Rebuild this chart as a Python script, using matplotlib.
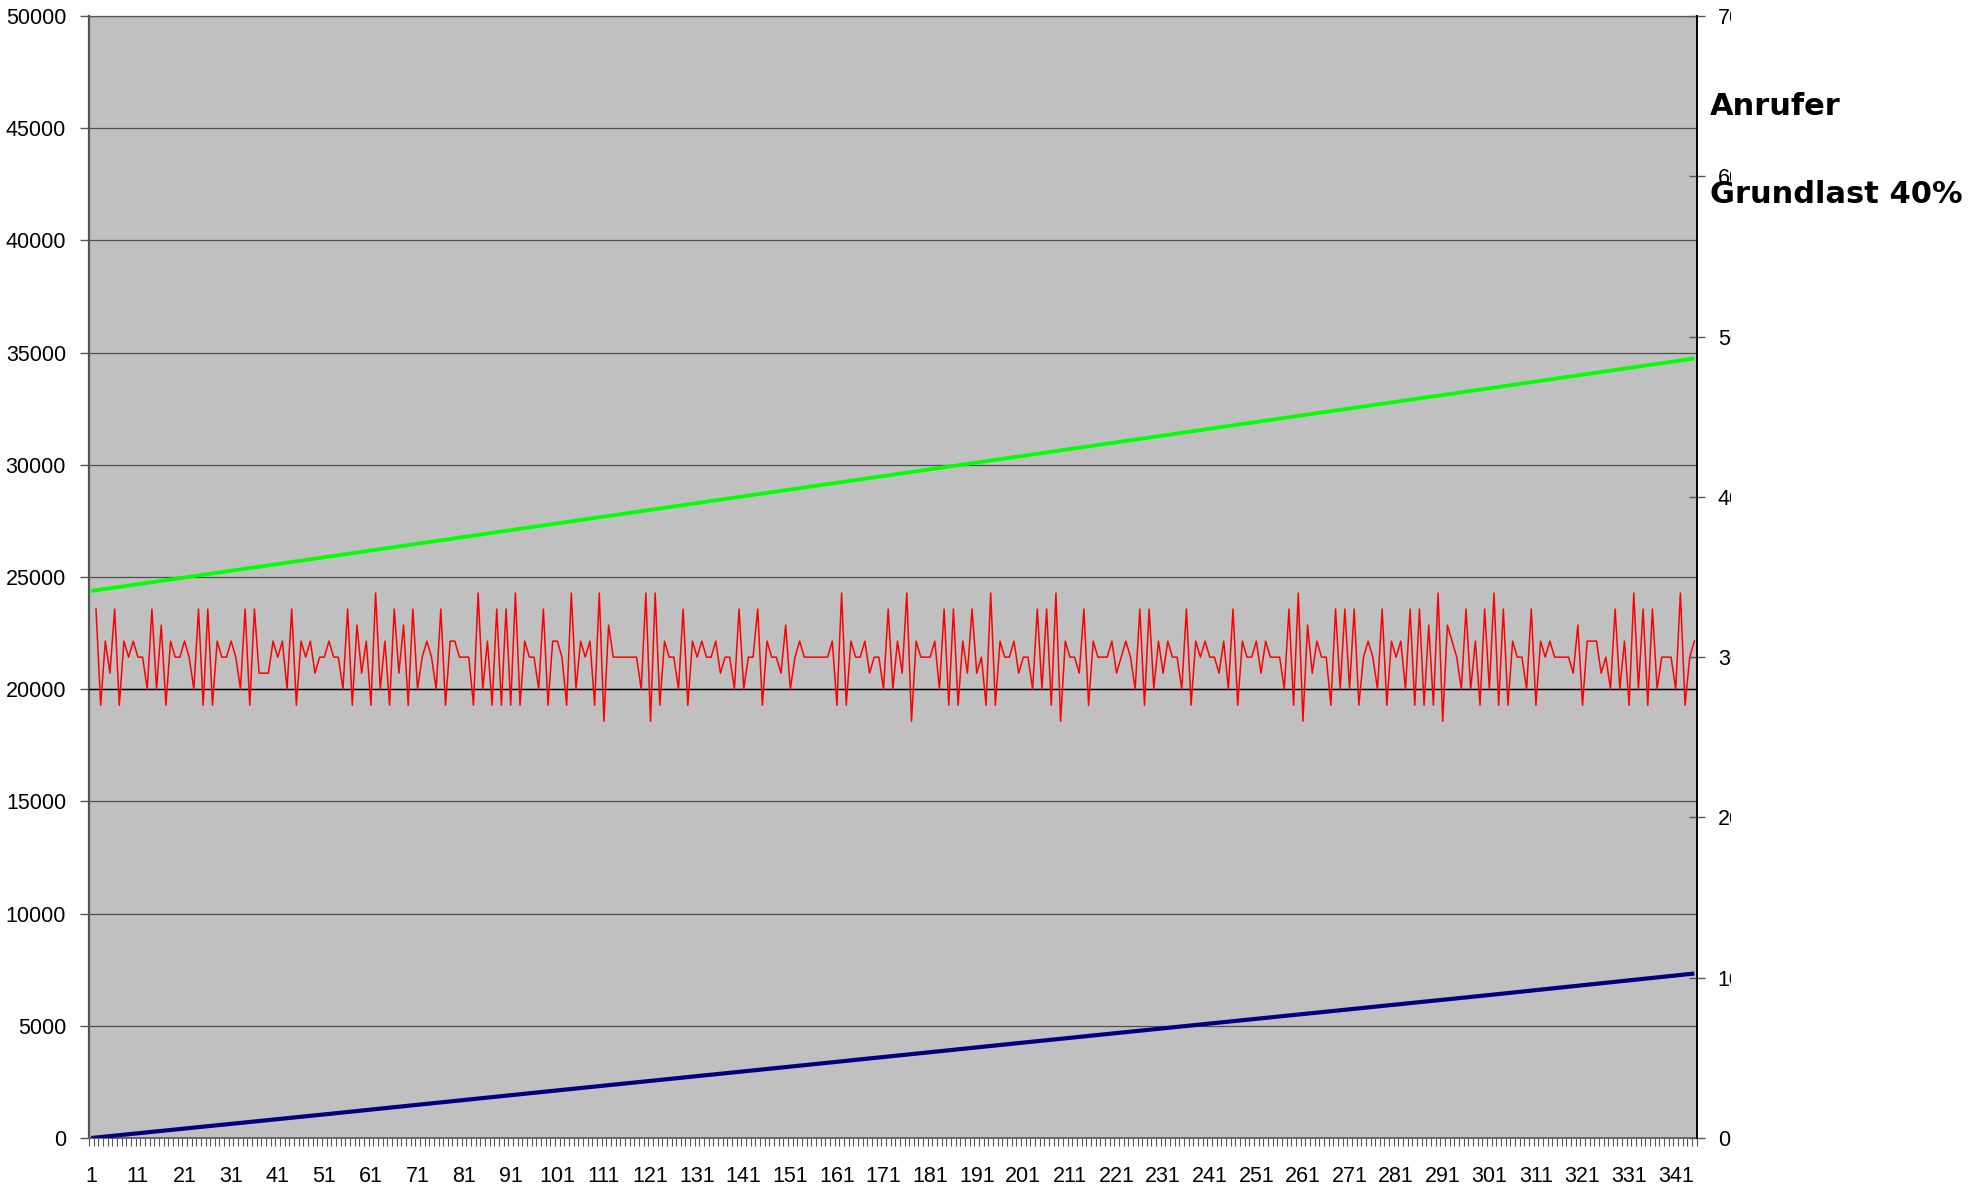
import numpy as np
import matplotlib
matplotlib.use("Agg")
import matplotlib.pyplot as plt
from matplotlib.patches import Rectangle

# ---- data -------------------------------------------------------------
n_categories = 345
label_cats = list(range(1, 342, 10))

# callers per interval (right axis), first value at category 2
anrufer_start = 2
anrufer = [
    33, 27, 31, 29, 33, 27, 31, 30, 31, 30, 30, 28, 33, 28, 32, 27, 31, 30, 30, 31,
    30, 28, 33, 27, 33, 27, 31, 30, 30, 31, 30, 28, 33, 27, 33, 29, 29, 29, 31, 30,
    31, 28, 33, 27, 31, 30, 31, 29, 30, 30, 31, 30, 30, 28, 33, 27, 32, 29, 31, 27,
    34, 28, 31, 27, 33, 29, 32, 27, 33, 28, 30, 31, 30, 28, 33, 27, 31, 31, 30, 30,
    30, 27, 34, 28, 31, 27, 33, 27, 33, 27, 34, 27, 31, 30, 30, 28, 33, 27, 31, 31,
    30, 27, 34, 28, 31,
    30, 31, 27, 34, 26, 32, 30, 30, 30, 30, 30, 30, 28, 34, 26, 34, 27, 31, 30, 30,
    28, 33, 27, 31, 30, 31, 30, 30, 31, 29, 30, 30, 28, 33, 28, 30, 30, 33, 27, 31,
    30, 30, 29, 32, 28, 30, 31, 30, 30, 30, 30, 30, 30, 31, 27, 34, 27, 31, 30, 30,
    31, 29, 30, 30, 28, 33, 28, 31, 29, 34, 26, 31, 30, 30, 30, 31, 28, 33, 27, 33,
    27, 31, 29, 33, 29, 30, 27, 34, 27, 31, 30, 30, 31, 29, 30, 30, 28, 33, 28, 33,
    27, 34, 26, 31, 30, 30, 29,
    33, 27, 31, 30, 30, 30, 31, 29, 30, 31, 30, 28, 33, 27, 33, 28, 31, 29, 31, 30,
    30, 28, 33, 27, 31, 30, 31, 30, 30, 29, 31, 28, 33, 27, 31, 30, 30, 31, 29, 31,
    30, 30, 30, 28, 33, 27, 34, 26, 32, 29, 31, 30, 30, 27, 33, 28, 33, 28, 33, 27,
    30, 31, 30, 28, 33, 27, 31, 30, 31, 28, 33, 27, 33, 27, 32, 27, 34, 26, 32, 31,
    30, 28, 33, 28, 31, 27, 33, 28, 34, 27, 33, 27, 31, 30, 30, 28, 33, 27, 31, 30,
    31, 30, 30, 30, 30, 29, 32, 27, 31, 31, 31, 29, 30, 28, 33, 28, 31, 27, 34, 28,
    33, 27, 33, 28, 30, 30, 30, 28, 34, 27, 30, 31,
]

# base load level (40 % of 70) on the right axis
grundlast = 28

# cumulative curves on the left axis, read at sample categories
curve_cats = [1, 50, 100, 150, 200, 250, 300, 345]
green_vals = [24380, 25850, 27360, 28870, 30370, 31880, 33380, 34740]
blue_vals = [0, 1030, 2100, 3160, 4230, 5290, 6350, 7330]

left_ticks = list(range(0, 50001, 5000))
right_ticks = list(range(0, 71, 10))

# ---- figure -----------------------------------------------------------
W, H = 1977, 1189
fig = plt.figure(figsize=(W / 100, H / 100), dpi=100)
fig.patch.set_facecolor("white")

x0, x1 = 89, 1696.7
y_top, y_bot = 16, 1138
ax = fig.add_axes([x0 / W, 1 - y_bot / H, (x1 - x0) / W, (y_bot - y_top) / H])
ax.set_facecolor("#C0C0C0")
ax2 = ax.twinx()

font = "Liberation Sans"
tick_fs = 15.5

# left axis
ax.set_xlim(0.5, n_categories + 0.5)
ax.set_ylim(0, 50000)
ax.set_yticks(left_ticks)
ax.set_yticklabels([str(v) for v in left_ticks], fontfamily=font, fontsize=tick_fs)
ax.tick_params(axis="y", direction="out", length=6.5, width=1.0, color="#555555", pad=10)
ax.yaxis.grid(True, color="#505050", linewidth=0.9)
ax.set_axisbelow(True)

# category axis: labels every 10, tick marks at every boundary
ax.set_xticks(label_cats)
ax.set_xticklabels([str(c) for c in label_cats], fontfamily=font, fontsize=tick_fs)
ax.tick_params(axis="x", which="major", length=0, pad=20)
ax.set_xticks(np.arange(0.5, n_categories + 1, 1.0), minor=True)
ax.tick_params(axis="x", which="minor", direction="out", length=5.8, width=0.8, color="#555555")

# right axis
ax2.set_ylim(0, 70)
ax2.set_yticks(right_ticks)
ax2.set_yticklabels([str(v) for v in right_ticks], fontfamily=font, fontsize=tick_fs)
ax2.tick_params(axis="y", direction="inout", length=11.5, width=1.0, color="#555555", pad=9.4)

for s in ("left", "top"):
    ax.spines[s].set_color("#555555")
ax.spines["left"].set_linewidth(1.6)
ax.spines["top"].set_linewidth(0.9)
ax.spines["bottom"].set_color("#666666")
ax.spines["bottom"].set_linewidth(1.4)
ax.spines["right"].set_visible(False)
for s in ("left", "top", "bottom"):
    ax2.spines[s].set_visible(False)
ax2.spines["right"].set_color("black")
ax2.spines["right"].set_linewidth(1.4)

# series
ax.plot(curve_cats, green_vals, color="#00FF00", linewidth=2.7, solid_capstyle="butt", zorder=3)
ax.plot(curve_cats, blue_vals, color="#000080", linewidth=3.0, solid_capstyle="butt", zorder=3)
ax2.axhline(grundlast, color="black", linewidth=1.0, zorder=2)
x_red = np.arange(anrufer_start, anrufer_start + len(anrufer))
ax2.plot(x_red, anrufer, color="#FF0000", linewidth=1.1, zorder=3)

# right-hand labels are cut off at the chart edge
fig.patches.append(Rectangle((1731 / W, 0), 1 - 1731 / W, 1, transform=fig.transFigure,
                             facecolor="white", edgecolor="none", zorder=5))

fig.text(1710 / W, 1 - 115 / H, "Anrufer", fontfamily="DejaVu Sans", fontweight="bold",
         fontsize=22, va="baseline", ha="left", zorder=6)
fig.text(1710 / W, 1 - 203 / H, "Grundlast 40%", fontfamily="DejaVu Sans", fontweight="bold",
         fontsize=22, va="baseline", ha="left", zorder=6)

fig.savefig("out.png", dpi=100)
